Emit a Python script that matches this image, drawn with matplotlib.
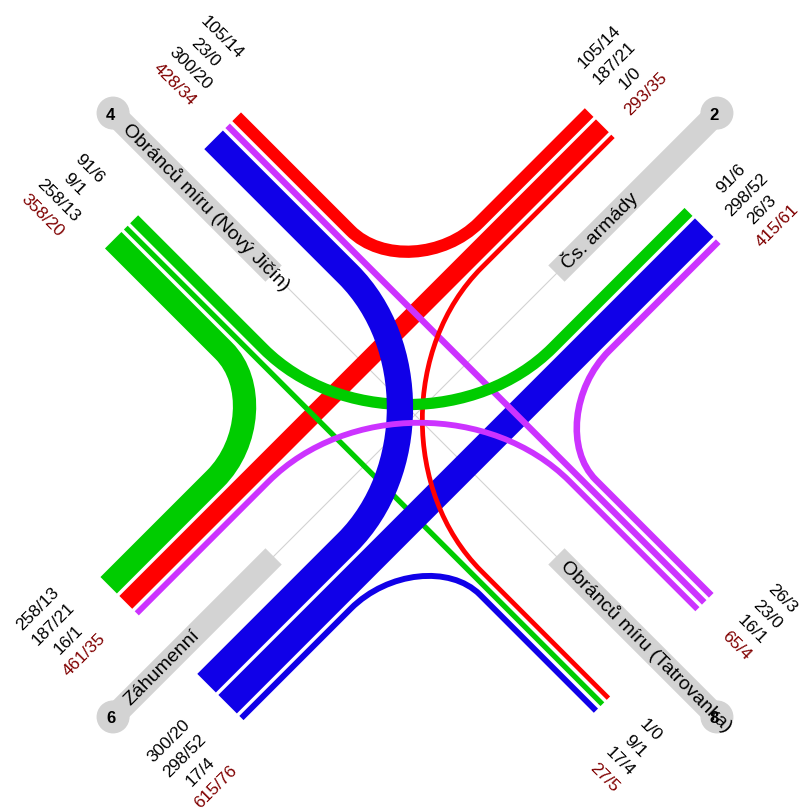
import numpy as np
import matplotlib
matplotlib.use('Agg')
import matplotlib.pyplot as plt
from matplotlib.path import Path
from matplotlib.patches import PathPatch, Circle

plt.rcParams['font.family'] = ['Liberation Sans', 'DejaVu Sans']

# turning counts per movement, cars/trucks
flow_labels = ['105/14', '187/21', '1/0', '23/0', '26/3', '16/1', '300/20', '298/52', '17/4', '91/6', '9/1', '258/13']
flow_colors = ['#ff0000', '#ff0000', '#ff0000', '#cc33ff', '#cc33ff', '#cc33ff', '#1000e8', '#1000e8', '#1000e8', '#00cc00', '#00cc00', '#00cc00']
draw_order = ['105/14', '26/3', '258/13', '17/4', '187/21', '9/1', '298/52', '23/0', '1/0', '91/6', '300/20', '16/1']

# each side of each arm, lanes listed from the road axis outwards
bundle_arm = ['NW', 'NW', 'NE', 'NE', 'SE', 'SE', 'SW', 'SW']
bundle_side = [1, -1, -1, 1, 1, -1, -1, 1]
bundle_flows = [['300/20', '23/0', '105/14'], ['91/6', '9/1', '258/13'],
                ['1/0', '187/21', '105/14'], ['91/6', '298/52', '26/3'],
                ['16/1', '23/0', '26/3'], ['1/0', '9/1', '17/4'],
                ['16/1', '187/21', '258/13'], ['300/20', '298/52', '17/4']]
bundle_totals = ['428/34', '358/20', '293/35', '415/61', '65/4', '27/5', '461/35', '615/76']

arm_names = ['NW', 'NE', 'SE', 'SW']
arm_numbers = ['4', '2', '8', '6']
arm_streets = ['Obránců míru (Nový Jičín)', 'Čs. armády', 'Obránců míru (Tatrovanka)', 'Záhumenní']

cx, cy = 415, 415
q = np.sqrt(0.5)
out_dir = {'NW': (-q, -q), 'NE': (q, -q), 'SE': (q, q), 'SW': (-q, q)}
across = {'NW': (q, -q), 'NE': (q, q), 'SE': (q, -q), 'SW': (q, q)}
text_rot = {'NW': -45, 'NE': 45, 'SE': -45, 'SW': 45}
text_step = {'NW': -1, 'NE': 1, 'SE': -1, 'SW': 1}
text_along = {'NW': 404, 'NE': 390, 'SE': 390, 'SW': 404}
street_along = {'NW': 409, 'NE': 211, 'SE': 210, 'SW': 407}

road_end = 337
mid_lane = 72
gap = 3.5


def width(label):
    return 4.7 + 0.072 * int(label.split('/')[0])


def pt(arm, along, perp):
    return (cx + along * out_dir[arm][0] + perp * across[arm][0],
            cy + along * out_dir[arm][1] + perp * across[arm][1])


# lane offsets stacked out from the middle (straight) lane
lanes = {}
for arm, side, flows in zip(bundle_arm, bundle_side, bundle_flows):
    w = [width(f) for f in flows]
    inner = mid_lane - w[1] / 2 - gap - w[0] / 2
    outer = mid_lane + w[1] / 2 + gap + w[2] / 2
    for f, off in zip(flows, [inner, mid_lane, outer]):
        lanes.setdefault(f, []).append((arm, side * off))

fig = plt.figure(figsize=(8.02, 8.10), dpi=100)
ax = fig.add_axes([0, 0, 1, 1])
ax.set_xlim(0, 802)
ax.set_ylim(810, 0)
ax.axis('off')

# guide lines and street bars
for arm in arm_names:
    ax.plot(*zip((cx, cy), pt(arm, 200, 0)), color='#d3d3d3', lw=0.8, zorder=1)
    ax.plot(*zip(pt(arm, 200, 0), pt(arm, 427, 0)), color='#d3d3d3', lw=23 * 0.72,
            solid_capstyle='butt', zorder=1)
    ax.add_patch(Circle(pt(arm, 427, 0), 16.5, color='#d3d3d3', lw=0, zorder=1))

# flows
colors = dict(zip(flow_labels, flow_colors))
for z, f in enumerate(draw_order):
    (arm1, s1), (arm2, s2) = lanes[f]
    a, b = pt(arm1, road_end, s1), pt(arm2, road_end, s2)
    if arm_names.index(arm1) % 2 == arm_names.index(arm2) % 2:
        verts, codes = [a, b], [Path.MOVETO, Path.LINETO]
    else:
        d1 = 100 + 0.9 * abs(s1)
        d2 = 100 + 0.9 * abs(s2)
        p1, p2 = np.array(pt(arm1, d1, s1)), np.array(pt(arm2, d2, s2))
        corner = np.array([cx, cy]) + s1 * np.array(across[arm1]) + s2 * np.array(across[arm2])
        c1 = p1 + 0.52 * (corner - p1)
        c2 = p2 + 0.52 * (corner - p2)
        verts = [a, p1, c1, c2, p2, b]
        codes = [Path.MOVETO, Path.LINETO, Path.CURVE4, Path.CURVE4, Path.CURVE4, Path.LINETO]
    ax.add_patch(PathPatch(Path(verts, codes), fill=False, ec=colors[f], lw=width(f) * 0.72,
                           capstyle='butt', joinstyle='round', zorder=2 + z * 0.01))

# count labels
for arm, side, flows, total in zip(bundle_arm, bundle_side, bundle_flows, bundle_totals):
    step = text_step[arm]
    rows = list(flows) if step == side else list(flows)[::-1]
    rows.append(total)
    mid = 89.5 if step == side else 97
    for i, row in enumerate(rows):
        perp = side * mid + step * (i - 1.5) * 22
        ax.text(*pt(arm, text_along[arm], perp), row, rotation=text_rot[arm], rotation_mode='anchor',
                ha='center', va='center', fontsize=12.5, zorder=5,
                color='#800000' if row == total else 'black')

# street names and arm numbers
for arm, num, street in zip(arm_names, arm_numbers, arm_streets):
    ax.text(*pt(arm, street_along[arm], 0), street, rotation=text_rot[arm], rotation_mode='anchor',
            ha='left', va='center', fontsize=14, zorder=5, color='black')
    x, y = pt(arm, 427, 0)
    ax.text(x - 2.5, y + 2, num, ha='center', va='center', fontsize=12, fontweight='bold', zorder=5)

fig.savefig('out.png', dpi=100)
